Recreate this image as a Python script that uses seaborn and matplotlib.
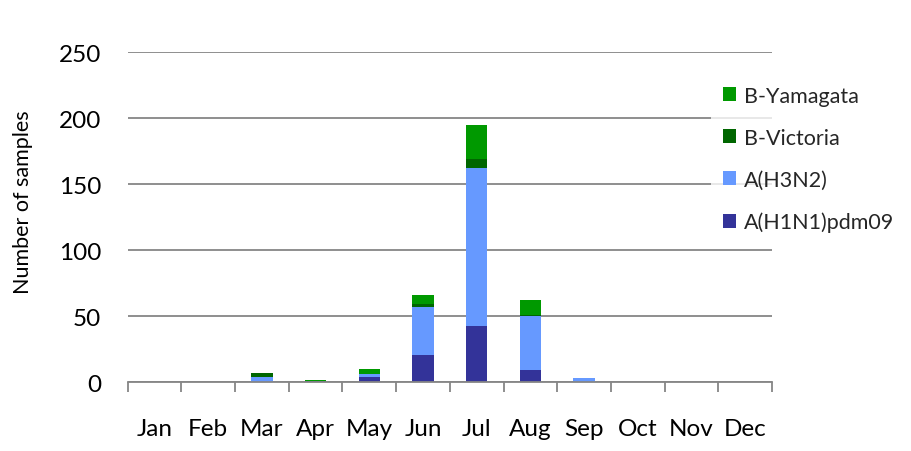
import numpy as np
import pandas as pd
import matplotlib
matplotlib.use("Agg")
import matplotlib.pyplot as plt
import seaborn as sns
from matplotlib.patches import Patch

# data
months = ["Jan", "Feb", "Mar", "Apr", "May", "Jun", "Jul", "Aug", "Sep", "Oct", "Nov", "Dec"]
h1n1 = [0, 0, 0, 1, 4, 21, 43, 9, 0, 0, 0, 0]
h3n2 = [0, 0, 4, 0, 2, 36, 119, 41, 3, 0, 0, 0]
victoria = [0, 0, 3, 0, 0, 2, 7, 1, 0, 0, 0, 0]
yamagata = [0, 0, 0, 1, 4, 7, 26, 11, 0, 0, 0, 0]

series = ["A(H1N1)pdm09", "A(H3N2)", "B-Victoria", "B-Yamagata"]
colors = ["#333399", "#6699FF", "#006600", "#009900"]

sns.set_theme(style="white")
plt.rcParams["font.family"] = ["Lato", "DejaVu Sans"]

df = pd.DataFrame({"month": months, series[0]: h1n1, series[1]: h3n2,
                   series[2]: victoria, series[3]: yamagata})
cum = df[series].cumsum(axis=1)

fig = plt.figure(figsize=(9.12, 4.52), dpi=100)
ax = fig.add_axes([0.140, 0.152, 0.7065, 0.730])

# stacked bars: draw the cumulative totals from the top layer down
for name, col in reversed(list(zip(series, colors))):
    sns.barplot(x=df["month"], y=cum[name], color=col, width=0.4,
                saturation=1, ax=ax, zorder=3, linewidth=0, edgecolor="none")

ax.set_ylim(0, 250)
ax.set_xlim(-0.5, 11.5)
ax.set_yticks([0, 50, 100, 150, 200, 250])
ax.yaxis.grid(True, color="#868686", linewidth=1.3)
ax.set_axisbelow(True)

for s in ["top", "right", "left"]:
    ax.spines[s].set_visible(False)
ax.spines["bottom"].set_color("#868686")
ax.spines["bottom"].set_linewidth(1.3)
ax.spines["bottom"].set_zorder(4)

ax.set_xticks(np.arange(12))
ax.set_xticklabels(months)
ax.set_xticks(np.arange(-0.5, 12, 1), minor=True)
ax.tick_params(axis="x", which="major", length=0, pad=25.5, labelsize=17.5, colors="black")
ax.tick_params(axis="x", which="minor", bottom=True, length=7, width=1.3, color="#868686")
ax.tick_params(axis="y", length=0, pad=19, labelsize=17.5, colors="black")

ax.set_xlabel("")
ax.set_ylabel("Number of samples", fontsize=15.5, color="black")
ax.yaxis.set_label_coords(-0.147, 0.55)

handles = [Patch(facecolor=c, edgecolor="none") for c in colors]
leg = fig.legend(handles[::-1], series[::-1], loc="upper left",
                 bbox_to_anchor=(711 / 912, 1 - 75 / 452), frameon=True,
                 fontsize=15.5, handlelength=0.6, handleheight=0.6,
                 handletextpad=0.4, labelspacing=1.02, borderpad=0.55,
                 borderaxespad=0)
leg.get_frame().set_facecolor("white")
leg.get_frame().set_edgecolor("none")
leg.get_frame().set_linewidth(0)

fig.savefig("out.png", dpi=100)
